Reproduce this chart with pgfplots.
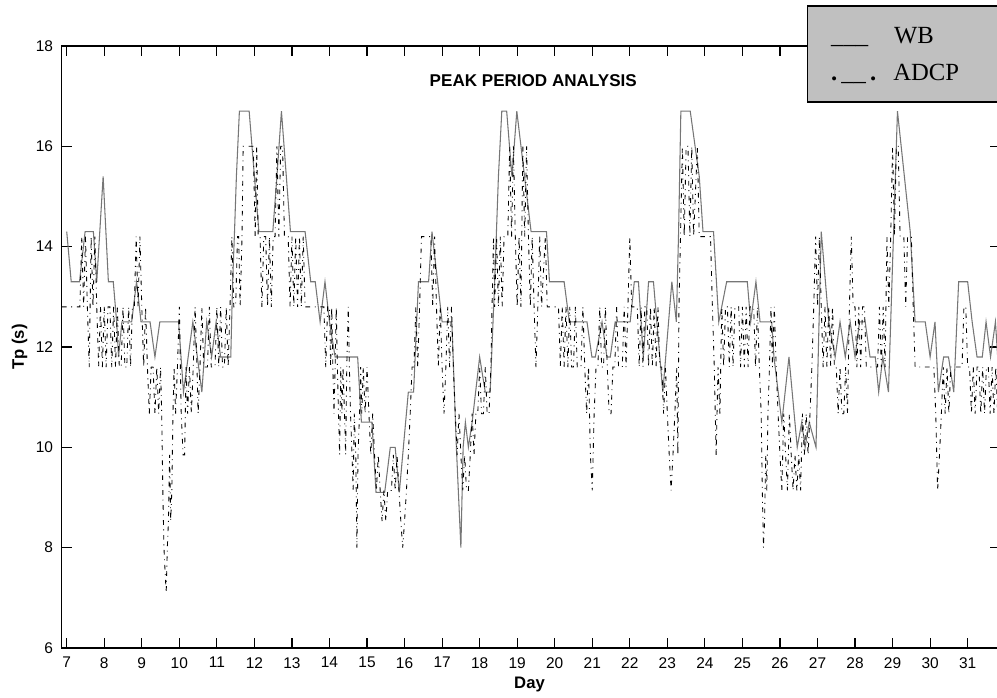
\documentclass[border=0pt]{standalone}
\usepackage{pgfplots}
\pgfplotsset{compat=1.18}
\usepackage{fontspec}
\setmainfont{Liberation Sans}
\newfontfamily\legfont{Liberation Serif}
\definecolor{wbgray}{RGB}{118,118,118}
\definecolor{legbg}{RGB}{192,192,192}
\begin{document}
\begin{tikzpicture}
\begin{axis}[
  at={(0,0)}, anchor=south west,
  scale only axis,
  width=703.7pt, height=451.5pt,
  xmin=6.867, xmax=31.86,
  ymin=6, ymax=18,
  xtick={7,8,...,31},
  ytick={6,8,...,18},
  clip=false,
  axis line style={line width=1.1pt},
  tick style={line width=0.9pt, black},
  major tick length=7.5pt,
  tick align=inside,
  /pgf/number format/assume math mode=true,
  ticklabel style={font=\fontsize{11.6}{13}\selectfont},
  xticklabel style={yshift=-3.5pt},
  yticklabel style={xshift=-3pt},
  xlabel={\bfseries Day},
  ylabel={\bfseries Tp (s)},
  xlabel style={font=\fontsize{12.5}{14}\selectfont, at={(axis description cs:0.4986,-0.0615)}, anchor=center},
  ylabel style={font=\fontsize{12.5}{14}\selectfont, at={(axis description cs:-0.045,0.5)}, anchor=center},
]
% WB (solid gray)
\addplot[wbgray, line width=0.8pt] coordinates {
(7.00,14.3) (7.12,13.3) (7.34,13.3) (7.49,14.3) (7.71,14.3) (7.80,13.3) (7.97,15.4) (8.11,13.3) (8.24,13.3) (8.33,12.5) (8.38,11.8) (8.47,12.5) (8.73,12.5) (8.86,13.3) (8.98,12.5) (9.22,12.5) (9.35,11.8) (9.48,12.5) (9.98,12.5) (10.11,11.1) (10.36,12.5) (10.60,11.1) (10.73,12.5) (10.86,11.8) (10.98,12.5) (11.10,11.8) (11.37,11.8) (11.42,13.3) (11.47,14.3) (11.52,15.4) (11.60,16.7) (11.86,16.7) (12.00,15.4) (12.12,14.3) (12.49,14.3) (12.60,15.4) (12.72,16.7) (12.85,15.4) (12.96,14.3) (13.35,14.3) (13.50,13.3) (13.62,13.3) (13.75,12.5) (13.88,13.3) (14.00,12.5) (14.15,11.8) (14.75,11.8) (14.85,10.5) (15.13,10.5) (15.24,9.1) (15.47,9.1) (15.62,10.0) (15.75,10.0) (15.86,9.1) (16.10,11.1) (16.24,11.1) (16.37,13.3) (16.64,13.3) (16.73,14.3) (17.00,12.5) (17.26,12.5) (17.38,10.0) (17.50,8.0) (17.56,10.0) (17.62,10.5) (17.70,10.0) (17.80,10.5) (18.00,11.8) (18.15,11.1) (18.28,11.1) (18.40,13.3) (18.50,15.4) (18.59,16.7) (18.72,16.7) (18.86,15.4) (18.99,16.7) (19.37,14.3) (19.78,14.3) (19.86,13.3) (20.25,13.3) (20.39,12.5) (20.86,12.5) (20.99,11.8) (21.08,11.8) (21.26,12.5) (21.39,11.8) (21.48,11.8) (21.61,12.5) (22.01,12.5) (22.12,13.3) (22.23,13.3) (22.36,11.8) (22.50,13.3) (22.63,13.3) (22.72,12.5) (22.88,11.1) (23.12,13.3) (23.24,12.5) (23.30,14.3) (23.36,16.7) (23.61,16.7) (23.85,15.4) (23.95,14.3) (24.23,14.3) (24.37,12.5) (24.58,13.3) (25.13,13.3) (25.22,12.5) (25.36,13.3) (25.47,12.5) (25.78,12.5) (25.84,11.8) (26.05,10.5) (26.24,11.8) (26.46,10.0) (26.58,10.5) (26.67,10.0) (26.78,10.5) (26.96,10.0) (27.10,14.3) (27.30,12.5) (27.47,11.8) (27.60,12.5) (27.74,11.8) (27.87,12.5) (28.00,11.8) (28.12,12.5) (28.27,12.5) (28.40,11.8) (28.54,11.8) (28.63,11.1) (28.74,11.8) (28.89,11.1) (29.13,16.7) (29.47,14.3) (29.60,12.5) (29.87,12.5) (30.00,11.8) (30.13,12.5) (30.22,11.1) (30.36,11.8) (30.49,11.8) (30.63,11.1) (30.76,13.3) (31.00,13.3) (31.12,12.5) (31.25,11.8) (31.39,11.8) (31.49,12.5) (31.61,11.8) (31.74,12.5) (31.80,11.8) (31.86,12.5)
};
% ADCP (dash-dot black)
\addplot[black, line width=0.65pt, dash pattern=on 3.5pt off 3.5pt on 0.7pt off 3.5pt] coordinates {
(6.87,12.8) (7.35,12.8) (7.40,14.2) (7.45,12.8) (7.50,14.2) (7.55,12.8) (7.60,11.6) (7.65,14.2) (7.70,12.8) (7.75,14.2) (7.80,12.8) (7.85,11.6) (7.90,12.8) (7.95,11.6) (8.00,12.8) (8.05,11.6) (8.10,12.8) (8.15,12.8) (8.20,11.6) (8.25,12.8) (8.30,11.6) (8.35,12.8) (8.40,11.6) (8.45,11.6) (8.50,12.8) (8.55,11.6) (8.60,11.6) (8.65,12.8) (8.70,11.6) (8.75,12.8) (8.80,12.8) (8.85,14.2) (8.90,12.8) (8.95,14.2) (9.00,12.8) (9.05,11.6) (9.10,12.8) (9.15,11.6) (9.20,10.67) (9.25,11.6) (9.30,11.6) (9.35,10.67) (9.40,11.6) (9.45,10.67) (9.50,11.6) (9.53,10.67) (9.56,9.14) (9.59,8.0) (9.62,7.53) (9.65,7.1) (9.68,8.0) (9.71,8.53) (9.74,9.85) (9.77,8.53) (9.80,9.14) (9.83,10.67) (9.86,11.6) (9.90,10.67) (9.95,11.6) (10.00,12.8) (10.05,10.67) (10.10,9.85) (10.14,9.85) (10.18,11.6) (10.22,10.67) (10.27,11.6) (10.32,10.67) (10.37,11.6) (10.42,12.8) (10.47,11.6) (10.50,10.67) (10.55,11.6) (10.60,12.8) (10.65,11.6) (10.75,11.6) (10.80,12.8) (10.85,11.6) (10.95,11.6) (11.00,12.8) (11.05,11.6) (11.10,12.8) (11.15,11.6) (11.20,11.6) (11.25,12.8) (11.30,11.6) (11.35,12.8) (11.40,14.2) (11.45,12.8) (11.50,12.8) (11.55,14.2) (11.58,14.2) (11.62,12.8) (11.67,14.2) (11.70,16.0) (11.97,16.0) (12.02,14.2) (12.06,16.0) (12.10,14.2) (12.15,14.2) (12.20,12.8) (12.25,14.2) (12.30,14.2) (12.35,12.8) (12.40,14.2) (12.45,12.8) (12.50,14.2) (12.55,14.2) (12.60,16.0) (12.65,14.2) (12.70,16.0) (12.75,16.0) (12.80,14.2) (12.85,14.2) (12.90,14.2) (12.95,12.8) (13.00,14.2) (13.05,12.8) (13.10,14.2) (13.15,12.8) (13.20,14.2) (13.25,12.8) (13.30,14.2) (13.35,12.8) (13.85,12.8) (13.90,11.6) (13.95,12.8) (14.00,12.8) (14.03,11.6) (14.06,12.8) (14.09,11.6) (14.12,10.67) (14.15,11.6) (14.18,12.8) (14.21,11.6) (14.24,10.67) (14.27,9.85) (14.30,11.6) (14.33,10.67) (14.36,11.6) (14.40,10.67) (14.43,9.85) (14.46,11.6) (14.50,12.8) (14.53,11.6) (14.56,10.67) (14.60,9.85) (14.63,9.14) (14.66,10.67) (14.70,9.85) (14.73,8.0) (14.76,9.85) (14.80,10.67) (14.83,11.6) (14.86,10.67) (14.90,11.6) (14.95,10.67) (15.00,11.6) (15.05,10.67) (15.10,9.85) (15.15,10.67) (15.20,9.85) (15.25,9.14) (15.30,9.85) (15.35,9.14) (15.40,8.53) (15.45,9.14) (15.50,8.53) (15.55,9.14) (15.65,9.14) (15.70,9.85) (15.75,9.14) (15.80,9.85) (15.85,9.14) (15.90,8.53) (15.95,8.0) (16.00,8.53) (16.05,9.14) (16.10,9.85) (16.15,10.67) (16.20,11.6) (16.25,11.6) (16.30,12.8) (16.35,11.6) (16.40,12.8) (16.45,14.2) (16.70,14.2) (16.75,12.8) (16.80,14.2) (16.85,12.8) (16.90,11.6) (16.95,12.8) (17.00,11.6) (17.05,10.67) (17.10,11.6) (17.15,12.8) (17.20,11.6) (17.25,12.8) (17.30,11.6) (17.35,10.67) (17.40,9.85) (17.45,10.67) (17.50,9.85) (17.55,9.14) (17.60,9.85) (17.65,9.14) (17.70,9.14) (17.75,9.85) (17.80,10.67) (17.85,9.85) (17.90,10.67) (17.95,10.67) (18.00,11.6) (18.05,10.67) (18.10,10.67) (18.15,11.6) (18.20,10.67) (18.25,10.67) (18.30,11.6) (18.33,12.8) (18.37,14.2) (18.40,12.8) (18.45,14.2) (18.50,12.8) (18.55,14.2) (18.60,12.8) (18.65,14.2) (18.75,14.2) (18.80,16.0) (18.85,14.2) (18.90,16.0) (18.95,14.2) (19.00,12.8) (19.05,14.2) (19.10,12.8) (19.15,16.0) (19.20,14.2) (19.25,16.0) (19.30,14.2) (19.35,12.8) (19.40,14.2) (19.45,12.8) (19.50,11.6) (19.55,12.8) (19.60,14.2) (19.65,12.8) (19.75,14.2) (19.80,12.8) (20.10,12.8) (20.15,11.6) (20.20,12.8) (20.25,11.6) (20.30,12.8) (20.35,11.6) (20.40,12.8) (20.45,11.6) (20.50,11.6) (20.55,12.8) (20.60,11.6) (20.70,11.6) (20.75,12.8) (20.80,11.6) (20.85,10.67) (20.90,11.6) (20.95,9.85) (21.00,9.14) (21.05,10.67) (21.10,11.6) (21.15,11.6) (21.20,12.8) (21.25,11.6) (21.30,11.6) (21.35,12.8) (21.40,11.6) (21.45,10.67) (21.50,10.67) (21.55,11.6) (21.60,11.6) (21.65,12.8) (21.70,11.6) (21.80,11.6) (21.85,12.8) (21.90,11.6) (21.95,12.8) (22.00,14.2) (22.05,12.8) (22.20,12.8) (22.25,11.6) (22.30,12.8) (22.35,11.6) (22.40,12.8) (22.45,12.8) (22.50,11.6) (22.55,12.8) (22.60,11.6) (22.65,12.8) (22.70,11.6) (22.75,12.8) (22.80,11.6) (22.85,11.6) (22.90,10.67) (22.95,11.6) (23.00,10.67) (23.05,9.85) (23.10,9.14) (23.15,9.85) (23.20,10.67) (23.25,11.6) (23.28,9.85) (23.31,12.8) (23.35,14.2) (23.40,16.0) (23.45,14.2) (23.50,16.0) (23.55,16.0) (23.60,14.2) (23.65,16.0) (23.70,14.2) (23.80,16.0) (23.85,14.2) (24.15,14.2) (24.20,12.8) (24.25,11.6) (24.30,9.85) (24.35,11.6) (24.40,10.67) (24.45,12.8) (24.50,11.6) (24.55,12.8) (24.60,12.8) (24.65,11.6) (24.70,12.8) (24.75,11.6) (24.80,12.8) (24.90,12.8) (24.95,11.6) (25.00,12.8) (25.05,11.6) (25.10,12.8) (25.15,11.6) (25.20,12.8) (25.30,12.8) (25.35,11.6) (25.40,12.8) (25.45,11.6) (25.50,10.67) (25.53,9.14) (25.56,8.0) (25.59,8.53) (25.62,9.85) (25.65,9.14) (25.68,10.67) (25.72,11.6) (25.76,12.8) (25.80,11.6) (25.85,12.8) (25.90,11.6) (25.95,10.67) (26.00,9.85) (26.05,9.14) (26.10,10.67) (26.15,9.85) (26.20,9.14) (26.25,10.67) (26.30,9.85) (26.35,9.14) (26.40,9.85) (26.45,9.14) (26.50,9.85) (26.55,9.14) (26.60,10.67) (26.65,9.85) (26.70,10.67) (26.75,9.85) (26.80,10.67) (26.85,11.6) (26.90,12.8) (26.95,14.2) (27.00,12.8) (27.05,14.2) (27.10,12.8) (27.15,11.6) (27.20,12.8) (27.25,11.6) (27.30,12.8) (27.35,11.6) (27.40,12.8) (27.45,11.6) (27.50,11.6) (27.55,10.67) (27.60,11.6) (27.65,10.67) (27.70,10.67) (27.75,11.6) (27.80,10.67) (27.85,12.8) (27.90,14.2) (27.95,12.8) (28.00,12.8) (28.05,11.6) (28.10,12.8) (28.15,11.6) (28.20,12.8) (28.25,12.8) (28.30,11.6) (28.60,11.6) (28.65,12.8) (28.70,11.6) (28.75,12.8) (28.80,11.6) (28.85,14.2) (28.90,12.8) (28.95,14.2) (29.00,16.0) (29.05,14.2) (29.10,16.0) (29.15,16.0) (29.20,14.2) (29.25,14.2) (29.30,14.2) (29.35,12.8) (29.40,14.2) (29.50,14.2) (29.55,12.8) (29.60,11.6) (30.10,11.6) (30.15,10.67) (30.20,9.14) (30.25,9.85) (30.30,10.67) (30.35,11.6) (30.40,10.67) (30.45,11.6) (30.50,10.67) (30.55,11.6) (30.85,11.6) (30.90,12.8) (30.95,12.8) (31.00,11.6) (31.05,11.6) (31.10,10.67) (31.15,11.6) (31.20,10.67) (31.25,11.6) (31.30,11.6) (31.35,10.67) (31.40,11.6) (31.45,10.67) (31.50,11.6) (31.55,11.6) (31.60,10.67) (31.65,11.6) (31.70,10.67) (31.75,11.6) (31.80,10.67) (31.86,11.6)
};
% title
\node[font=\fontsize{12.8}{15}\selectfont\bfseries, anchor=center] at (rel axis cs:0.5026,0.9424) {PEAK PERIOD ANALYSIS};
% legend box
\draw[fill=legbg, line width=1pt] (rel axis cs:0.7951,0.9070) rectangle (rel axis cs:1.03,1.0664);
\node[font=\fontsize{18.5}{22}\legfont, anchor=base west, inner sep=0pt] at (rel axis cs:0.8199,1.0042) {\_\_\_};
\node[font=\fontsize{18.5}{22}\legfont, anchor=base west, inner sep=0pt] at (rel axis cs:0.8870,1.0042) {WB};
\node[font=\fontsize{18.5}{22}\legfont, anchor=base west, inner sep=0pt] at (rel axis cs:0.8199,0.9430) {\textbf{.}\kern3pt\_\_\kern3pt\textbf{.}};
\node[font=\fontsize{18.5}{22}\legfont, anchor=base west, inner sep=0pt] at (rel axis cs:0.8860,0.9430) {ADCP};
\end{axis}
\pgfresetboundingbox
\path[use as bounding box] ([shift={(-46.3pt,-37.5pt)}]current axis.south west) rectangle ([shift={(701.5pt,486pt)}]current axis.south west);
\end{tikzpicture}
\end{document}
